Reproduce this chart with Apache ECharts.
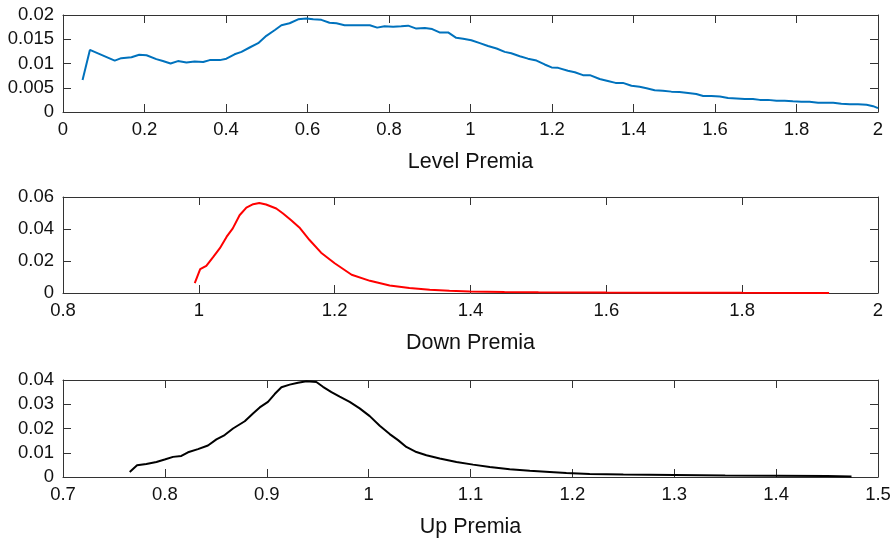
<!DOCTYPE html>
<html>
<head>
<meta charset="utf-8">
<script src="https://cdn.jsdelivr.net/npm/echarts@6/dist/echarts.min.js"></script>
<style>
html,body{margin:0;padding:0;background:#fff;}
#chart{width:896px;height:543px;}
</style>
</head>
<body>
<div id="chart"></div>
<script>
// ---- Data ----
const levelX = [0.048,0.066,0.127,0.143,0.168,0.187,0.205,0.229,0.245,0.264,0.282,0.303,0.323,0.344,0.36,0.385,0.401,0.421,0.438,0.458,0.479,0.499,0.52,0.536,0.556,0.577,0.597,0.614,0.634,0.654,0.671,0.691,0.712,0.732,0.753,0.771,0.789,0.81,0.83,0.847,0.867,0.888,0.906,0.924,0.945,0.965,0.982,1.002,1.023,1.043,1.064,1.084,1.1,1.121,1.141,1.162,1.182,1.199,1.215,1.239,1.256,1.276,1.293,1.317,1.337,1.356,1.374,1.395,1.415,1.432,1.452,1.472,1.493,1.513,1.534,1.554,1.571,1.591,1.612,1.632,1.653,1.673,1.693,1.71,1.73,1.751,1.771,1.791,1.812,1.832,1.853,1.869,1.89,1.91,1.931,1.951,1.972,1.988,2.0];
const levelY = [0.0066,0.0128,0.0106,0.0111,0.0113,0.0118,0.0117,0.0109,0.0105,0.0100,0.0105,0.0102,0.0104,0.0103,0.0107,0.0107,0.0110,0.0119,0.0124,0.0133,0.0142,0.0157,0.0169,0.0179,0.0183,0.0191,0.0193,0.0191,0.0190,0.0184,0.0183,0.0179,0.0179,0.0179,0.0179,0.0174,0.0177,0.0176,0.0177,0.0178,0.0172,0.0173,0.0171,0.0164,0.0164,0.0153,0.0151,0.0148,0.0142,0.0136,0.0131,0.0124,0.0121,0.0115,0.0110,0.0106,0.0098,0.0092,0.0091,0.0085,0.0082,0.0076,0.0076,0.0068,0.0064,0.0060,0.0060,0.0054,0.0052,0.0049,0.0045,0.0044,0.0042,0.0041,0.0039,0.0037,0.0033,0.0033,0.0032,0.0029,0.0028,0.0027,0.0027,0.0025,0.0025,0.0023,0.0023,0.0022,0.0021,0.0021,0.0019,0.0019,0.0019,0.0017,0.0016,0.0016,0.0015,0.0012,0.0008];

const downX = [0.994,1.002,1.011,1.021,1.031,1.041,1.050,1.060,1.070,1.080,1.089,1.099,1.114,1.124,1.136,1.148,1.163,1.180,1.200,1.225,1.252,1.281,1.310,1.340,1.369,1.399,1.45,1.5,1.6,1.7,1.8,1.928];
const downY = [0.0062,0.0149,0.0170,0.0224,0.0280,0.0352,0.0404,0.0486,0.0534,0.0555,0.0563,0.0553,0.0528,0.0497,0.0455,0.0410,0.0331,0.0252,0.0186,0.0114,0.0076,0.0047,0.0031,0.0020,0.0014,0.0010,0.0007,0.0005,0.0003,0.0002,0.0001,0.00005];

const upX = [0.7655,0.7727,0.7818,0.7917,0.7998,0.808,0.8162,0.8227,0.8325,0.8423,0.8506,0.8587,0.8669,0.8784,0.8865,0.8931,0.9012,0.9078,0.9144,0.9225,0.9307,0.939,0.9487,0.9552,0.9635,0.9716,0.9814,0.9912,1.0011,1.0109,1.0207,1.0289,1.037,1.0469,1.0567,1.0698,1.0862,1.1025,1.1189,1.1385,1.1582,1.1778,1.1941,1.217,1.25,1.3,1.35,1.4,1.45,1.474];
const upY = [0.0021,0.0048,0.0054,0.0062,0.0072,0.0083,0.0087,0.0102,0.0115,0.0130,0.0155,0.0173,0.0200,0.0230,0.0262,0.0287,0.0310,0.0342,0.0370,0.0381,0.0389,0.0395,0.0392,0.0372,0.0350,0.0331,0.0310,0.0283,0.0251,0.0211,0.0177,0.0152,0.0124,0.0103,0.0090,0.0076,0.0062,0.0051,0.0041,0.0032,0.0026,0.0021,0.0017,0.0012,0.0010,0.0008,0.0006,0.0005,0.0004,0.0002];

const panelNames = ['Level Premia','Down Premia','Up Premia'];
const panelColors = ['#0072BD','#FF0000','#000000'];

// ---- Layout ----
const FONT = 'Liberation Sans, Arial, Helvetica, sans-serif';
const TXT = '#111';
const LINE = '#333';
const grids = [
  {left:63, right:18, top:15, height:97},
  {left:63, right:18, top:197, height:96},
  {left:63, right:18, top:380, height:97}
];
const xr = [{min:0,max:2,interval:0.2},{min:0.8,max:2,interval:0.2},{min:0.7,max:1.5,interval:0.1}];
const yr = [{min:0,max:0.02,interval:0.005},{min:0,max:0.06,interval:0.02},{min:0,max:0.04,interval:0.01}];

const xAxis = [], yAxis = [], series = [];
const datasets = [[levelX,levelY],[downX,downY],[upX,upY]];
for (let i=0;i<3;i++){
  const base = {type:'value', gridIndex:i, splitLine:{show:false},
    axisLine:{show:true, onZero:false, lineStyle:{color:LINE,width:1}},
    axisTick:{show:true, inside:true, length:8, lineStyle:{color:LINE,width:1}}};
  xAxis.push(Object.assign({}, base, xr[i], {position:'bottom',
    axisLabel:{show:true, color:TXT, fontSize:18.5, fontFamily:FONT, margin:8},
    name:panelNames[i], nameLocation:'middle', nameGap:39,
    nameTextStyle:{color:TXT, fontSize:21.5, fontFamily:FONT}}));
  xAxis.push(Object.assign({}, base, xr[i], {position:'top', axisLabel:{show:false}}));
  yAxis.push(Object.assign({}, base, yr[i], {position:'left',
    axisLabel:{show:true, color:TXT, fontSize:18.5, fontFamily:FONT, margin:9}}));
  yAxis.push(Object.assign({}, base, yr[i], {position:'right', axisLabel:{show:false}}));
  const [xs, ys] = datasets[i];
  series.push({type:'line', xAxisIndex:2*i, yAxisIndex:2*i, showSymbol:false,
    symbol:'none', smooth:false, animation:false,
    lineStyle:{color:panelColors[i], width:2},
    data: xs.map((x,k)=>[x, ys[k]])});
}

const chart = echarts.init(document.getElementById('chart'), null, {renderer:'canvas'});
chart.setOption({animation:false, backgroundColor:'#fff', grid:grids, xAxis, yAxis, series});
</script>
</body>
</html>
